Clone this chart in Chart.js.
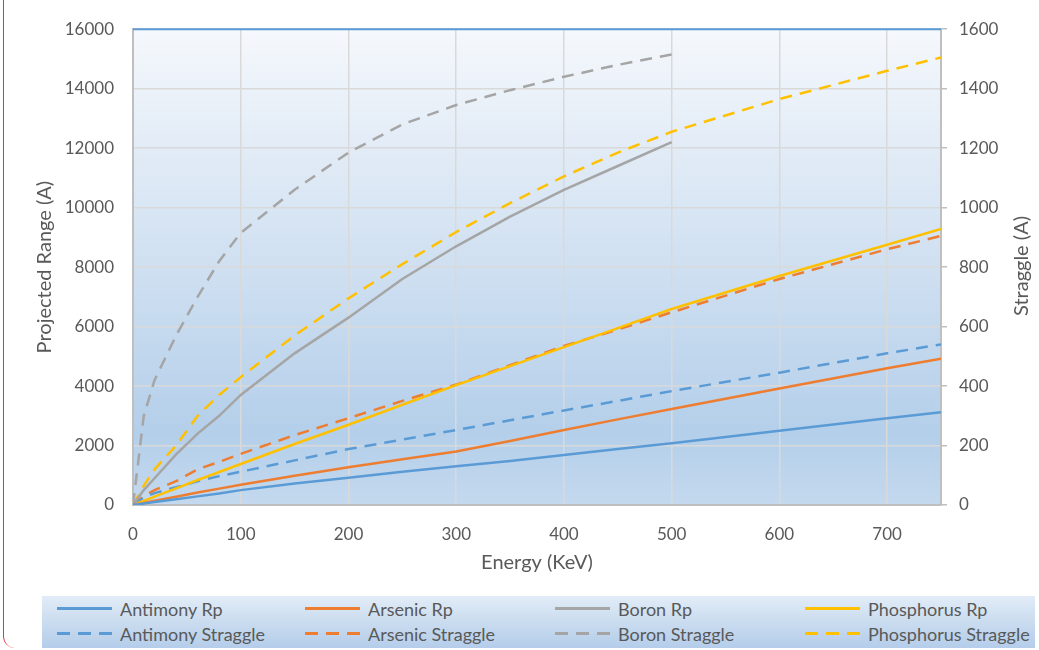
<!DOCTYPE html>
<html>
<head>
<meta charset="utf-8">
<script src="https://cdn.jsdelivr.net/npm/chart.js@4"></script>
<style>
  html, body { margin: 0; padding: 0; background: #fff; }
  body { width: 1039px; height: 650px; position: relative; overflow: hidden; font-family: Lato, "Open Sans", sans-serif; }
  .frame { position: absolute; left: 3px; top: -20px; width: 40px; height: 668px; border-left: 1.5px solid #e8333a; border-bottom-left-radius: 12px; }
  .chart-box { position: absolute; left: 0; top: 0; width: 1039px; height: 590px; }
  .right-title { position: absolute; left: 1020px; top: 266px; transform: translate(-50%, -50%) rotate(-90deg); font-size: 20px; color: #595959; white-space: nowrap; }
  .legend { position: absolute; left: 42px; top: 596px; width: 993px; height: 52px; box-sizing: border-box; padding: 0 0 0 15px;
    background: linear-gradient(to bottom, #e2ecf7 0%, #cadcef 50%, #b4cdea 100%);
    display: grid; grid-template-columns: 248px 250px 250px 240px; grid-auto-rows: 25px; }
  .legend-item { display: flex; align-items: center; font-size: 18px; color: #595959; white-space: nowrap; }
  .legend-swatch { width: 55px; height: 3px; margin-right: 8px; flex: none; }
</style>
</head>
<body>
<div class="frame"></div>
<div class="chart-box"><canvas id="chart" width="1039" height="590"></canvas></div>
<div class="right-title">Straggle (A)</div>
<div class="legend" id="legend"></div>
<script>
const energy = [0, 10, 20, 40, 60, 80, 100, 150, 200, 250, 300, 350, 400, 450, 500, 600, 700, 750];

// Projected range (A), left axis
const antimonyRp = [0, 50, 100, 190, 290, 390, 500, 720, 920, 1120, 1300, 1480, 1680, 1880, 2080, 2500, 2920, 3120];
const arsenicRp = [0, 70, 140, 280, 420, 550, 680, 980, 1270, 1540, 1800, 2150, 2520, 2880, 3230, 3920, 4600, 4920];
const boronRp = [0, 500, 900, 1700, 2400, 3000, 3700, 5100, 6300, 7600, 8700, 9700, 10600, 11400, 12200];
const phosphorusRp = [0, 140, 280, 560, 840, 1110, 1380, 2050, 2700, 3370, 4030, 4670, 5310, 5950, 6590, 7700, 8750, 9280];

// Straggle (A), right axis
const antimonyStraggle = [0, 25, 40, 60, 80, 97, 112, 150, 188, 220, 252, 285, 318, 350, 383, 445, 510, 540];
const arsenicStraggle = [0, 30, 50, 80, 120, 145, 172, 235, 292, 350, 405, 470, 535, 590, 648, 760, 860, 905];
const boronStraggle = [0, 300, 420, 570, 700, 820, 915, 1060, 1185, 1280, 1345, 1395, 1440, 1480, 1515];
const phosphorusStraggle = [0, 65, 120, 200, 300, 370, 430, 570, 695, 810, 918, 1015, 1105, 1185, 1255, 1365, 1460, 1505];

const energyTicks = [0, 100, 200, 300, 400, 500, 600, 700];

const colors = {
  antimony: "#5b9bd5",
  arsenic: "#ed7d31",
  boron: "#a5a5a5",
  phosphorus: "#ffc000"
};

const fontFamily = "Lato, 'Open Sans', sans-serif";
const textColor = "#595959";

function points(values) {
  return values.map((v, i) => ({ x: energy[i], y: v }));
}

function series(label, values, color, dashed) {
  return {
    label: label,
    data: points(values),
    borderColor: color,
    backgroundColor: color,
    borderWidth: 2.5,
    borderDash: dashed ? [12, 8] : [],
    pointRadius: 0,
    tension: 0,
    fill: false,
    yAxisID: dashed ? "y2" : "y"
  };
}

const plainNumber = (value) => String(value);

const plotBackground = {
  id: "plotBackground",
  beforeDraw(chart) {
    const { ctx, chartArea: a } = chart;
    const g = ctx.createLinearGradient(0, a.top, 0, a.bottom);
    g.addColorStop(0, "#f5f8fc");
    g.addColorStop(0.45, "#d3e2f2");
    g.addColorStop(0.85, "#b4cfea");
    g.addColorStop(1, "#c4d9ee");
    ctx.save();
    ctx.fillStyle = g;
    ctx.fillRect(a.left, a.top, a.right - a.left, a.bottom - a.top);
    ctx.restore();
  },
  afterDraw(chart) {
    const { ctx, chartArea: a } = chart;
    ctx.save();
    ctx.strokeStyle = "#5b9bd5";
    ctx.lineWidth = 2;
    ctx.beginPath();
    ctx.moveTo(a.left, a.top);
    ctx.lineTo(a.right, a.top);
    ctx.stroke();
    ctx.restore();
  }
};

const chart = new Chart(document.getElementById("chart").getContext("2d"), {
  type: "line",
  data: {
    datasets: [
      series("Antimony Rp", antimonyRp, colors.antimony, false),
      series("Arsenic Rp", arsenicRp, colors.arsenic, false),
      series("Boron Rp", boronRp, colors.boron, false),
      series("Phosphorus Rp", phosphorusRp, colors.phosphorus, false),
      series("Antimony Straggle", antimonyStraggle, colors.antimony, true),
      series("Arsenic Straggle", arsenicStraggle, colors.arsenic, true),
      series("Boron Straggle", boronStraggle, colors.boron, true),
      series("Phosphorus Straggle", phosphorusStraggle, colors.phosphorus, true)
    ]
  },
  options: {
    responsive: false,
    animation: false,
    layout: { padding: { top: 29, left: 0, right: 0, bottom: 0 } },
    plugins: {
      legend: { display: false },
      tooltip: { enabled: false }
    },
    scales: {
      x: {
        type: "linear",
        min: 0,
        max: 750,
        afterBuildTicks: (axis) => {
          axis.ticks = energyTicks.map((v) => ({ value: v }));
        },
        afterFit: (axis) => { axis.height = 85; },
        grid: { color: "#d9d9d9", lineWidth: 1.5, drawTicks: false },
        border: { color: "#bfbfbf", width: 2 },
        ticks: { color: textColor, padding: 19, callback: plainNumber, font: { family: fontFamily, size: 17 } },
        title: {
          display: true,
          text: "Energy (KeV)",
          color: textColor,
          font: { family: fontFamily, size: 20 },
          padding: { top: 0, bottom: 15 }
        }
      },
      y: {
        position: "left",
        min: 0,
        max: 16000,
        afterFit: (axis) => { axis.width = 133; },
        ticks: { stepSize: 2000, color: textColor, padding: 19, callback: plainNumber, font: { family: fontFamily, size: 17 } },
        grid: { color: "#d9d9d9", lineWidth: 1.5, drawTicks: false },
        border: { color: "#bfbfbf", width: 2 },
        title: {
          display: true,
          text: "Projected Range (A)",
          color: textColor,
          font: { family: fontFamily, size: 20 },
          padding: { top: 33, bottom: 0 }
        }
      },
      y2: {
        position: "right",
        min: 0,
        max: 1600,
        afterFit: (axis) => { axis.width = 98; },
        ticks: { stepSize: 200, color: textColor, padding: 12, callback: plainNumber, font: { family: fontFamily, size: 17 } },
        grid: { drawOnChartArea: false, drawTicks: true, tickLength: 6, color: "#bfbfbf", lineWidth: 1.5 },
        border: { color: "#bfbfbf", width: 2 }
      }
    }
  },
  plugins: [plotBackground]
});

function renderLegend(container, datasets) {
  container.innerHTML = datasets
    .map((ds) => {
      const color = ds.borderColor;
      const bg = ds.borderDash.length
        ? `repeating-linear-gradient(to right, ${color} 0 13px, transparent 13px 21px)`
        : color;
      return `
        <div class="legend-item">
          <span class="legend-swatch" style="background: ${bg}"></span>
          <span>${ds.label}</span>
        </div>
      `;
    })
    .join("");
}

renderLegend(document.getElementById("legend"), chart.data.datasets);
</script>
</body>
</html>
